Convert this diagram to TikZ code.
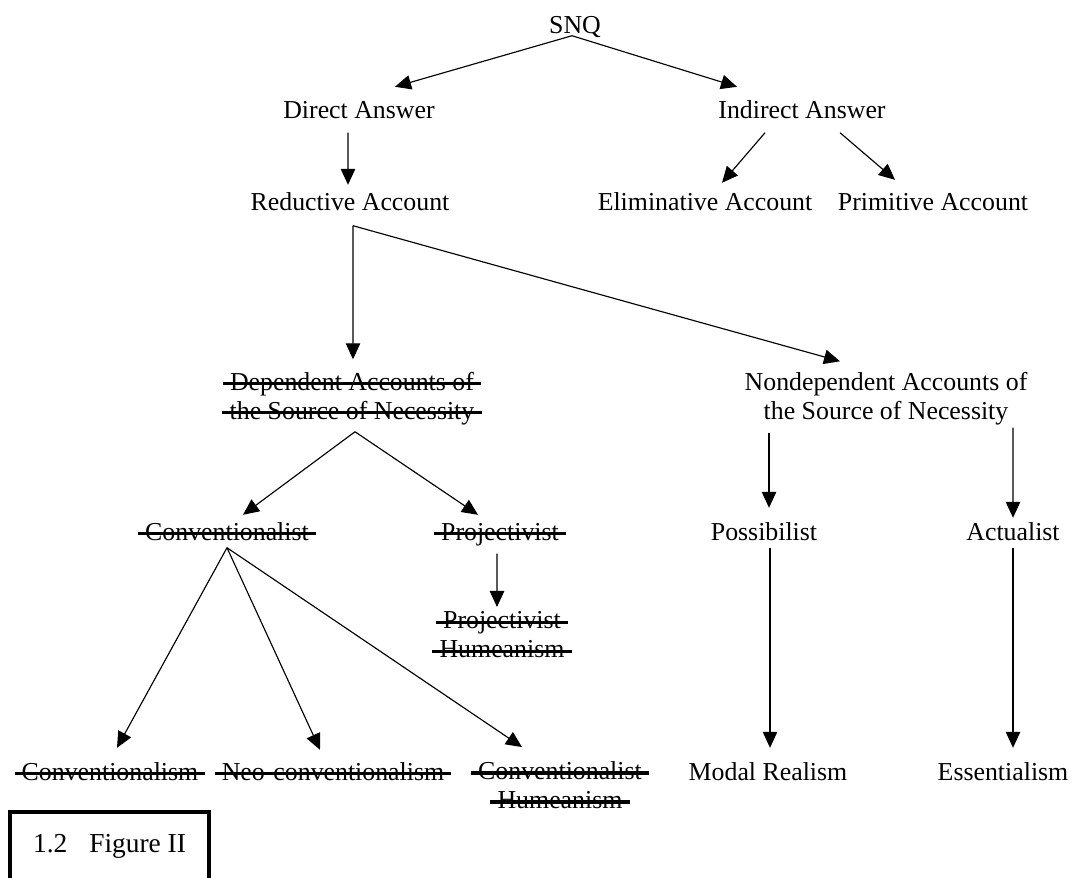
\documentclass[tikz,border=0pt]{standalone}
\usepackage{fontspec}
\setmainfont{Liberation Serif}
\usetikzlibrary{arrows.meta}

% struck-out label text
\newcommand{\strk}[1]{\setbox0\hbox{#1}\rlap{\kern-0.28em\rule[0.19em]{\dimexpr\wd0+0.56em\relax}{0.135em}}\box0}

\begin{document}
\begin{tikzpicture}[>={Triangle[length=0.32cm,width=0.29cm]},
  lbl/.style={inner sep=0pt, font=\fontsize{14.7}{16.5}\selectfont, text height=10.3pt, text depth=3.2pt},
  lbls/.style={inner sep=0pt, align=center, font=\fontsize{14.7}{16.5}\selectfont},
  arr/.style={->, line width=0.65pt},
  figbox/.style={draw, line width=2.3pt, minimum width=3.98cm, inner ysep=0.416cm,
    font=\fontsize{15.6}{18}\selectfont, text height=10.9pt, text depth=1.2cm}]
  \useasboundingbox (0,0) rectangle (21.46,-17.54);
  % Top levels
  \node[lbl] (snq) at (11.5,-0.54) {SNQ};
  \node[lbl] (direct) at (7.18,-2.24) {Direct Answer};
  \node[lbl] (indirect) at (16.04,-2.24) {Indirect Answer};
  \node[lbl] (reductive) at (7.0,-4.08) {Reductive Account};
  \node[lbl] (elim) at (14.1,-4.08) {Eliminative Account};
  \node[lbl] (prim) at (18.66,-4.08) {Primitive Account};
  % Second level
  \node[lbls] (dep) at (7.04,-7.97) {\strk{Dependent Accounts of}\\\strk{the Source of Necessity}};
  \node[lbls] (nondep) at (17.72,-7.97) {Nondependent Accounts of\\the Source of Necessity};
  \node[lbl] (conist) at (4.54,-10.68) {\strk{Conventionalist}};
  \node[lbl] (proj) at (10.0,-10.68) {\strk{Projectivist}};
  \node[lbl] (poss) at (15.28,-10.68) {Possibilist};
  \node[lbl] (act) at (20.26,-10.68) {Actualist};
  \node[lbls] (projhum) at (10.04,-12.7) {\strk{Projectivist}\\\strk{Humeanism}};
  % Bottom row
  \node[lbl] (conism) at (2.2,-15.48) {\strk{Conventionalism}};
  \node[lbl] (neo) at (6.66,-15.48) {\strk{Neo-conventionalism}};
  \node[lbls] (conhum) at (11.2,-15.71) {\strk{Conventionalist}\\\strk{Humeanism}};
  \node[lbl] (modal) at (15.36,-15.48) {Modal Realism};
  \node[lbl] (essent) at (20.06,-15.48) {Essentialism};
  % Caption box
  \node[figbox, anchor=north] (figlabel) at (2.19,-16.2) {1.2\hspace{0.8em}Figure II};
  % Connectors
  \draw[arr] ([xshift=-0.06cm,yshift=0.07cm]snq.south) -- ([xshift=0.72cm,yshift=0.26cm]direct.north);
  \draw[arr] ([xshift=-0.06cm,yshift=0.07cm]snq.south) -- ([xshift=-1.3cm,yshift=0.26cm]indirect.north);
  \draw[arr] ([xshift=-0.22cm,yshift=-0.17cm]direct.south) -- ([xshift=-0.04cm,yshift=0.14cm]reductive.north);
  \draw[arr] ([xshift=-0.74cm,yshift=-0.17cm]indirect.south) -- ([xshift=0.34cm,yshift=0.18cm]elim.north);
  \draw[arr] ([xshift=0.76cm,yshift=-0.17cm]indirect.south) -- ([xshift=-0.76cm,yshift=0.24cm]prim.north);
  \draw[arr] ([xshift=0.06cm,yshift=-0.19cm]reductive.south) -- ([xshift=0.02cm,yshift=0.25cm]dep.north);
  \draw[arr] ([xshift=0.06cm,yshift=-0.19cm]reductive.south) -- ([xshift=-0.92cm,yshift=0.21cm]nondep.north);
  \draw[arr] ([xshift=0.06cm,yshift=-0.13cm]dep.south) -- ([xshift=0.32cm,yshift=0.14cm]conist.north);
  \draw[arr] ([xshift=0.06cm,yshift=-0.13cm]dep.south) -- ([xshift=-0.44cm,yshift=0.14cm]proj.north);
  \draw[arr] ([xshift=-0.06cm,yshift=-0.15cm]proj.south) -- ([xshift=-0.1cm,yshift=0.09cm]projhum.north);
  \draw[arr] ([yshift=-0.03cm]conist.south) -- ([xshift=0.14cm,yshift=0.28cm]conism.north);
  \draw[arr] ([yshift=-0.03cm]conist.south) -- ([xshift=-0.26cm,yshift=0.24cm]neo.north);
  \draw[arr] ([yshift=-0.03cm]conist.south) -- ([xshift=-0.76cm,yshift=0.29cm]conhum.north);
  \draw[arr] ([xshift=-2.34cm,yshift=-0.15cm]nondep.south) -- ([xshift=0.1cm,yshift=0.28cm]poss.north);
  \draw[arr] ([xshift=2.54cm,yshift=-0.05cm]nondep.south) -- ([yshift=0.08cm]act.north);
  \draw[arr] ([xshift=0.12cm,yshift=-0.03cm]poss.south) -- ([xshift=0.04cm,yshift=0.28cm]modal.north);
  \draw[arr] ([yshift=-0.03cm]act.south) -- ([xshift=0.2cm,yshift=0.28cm]essent.north);
\end{tikzpicture}
\end{document}
